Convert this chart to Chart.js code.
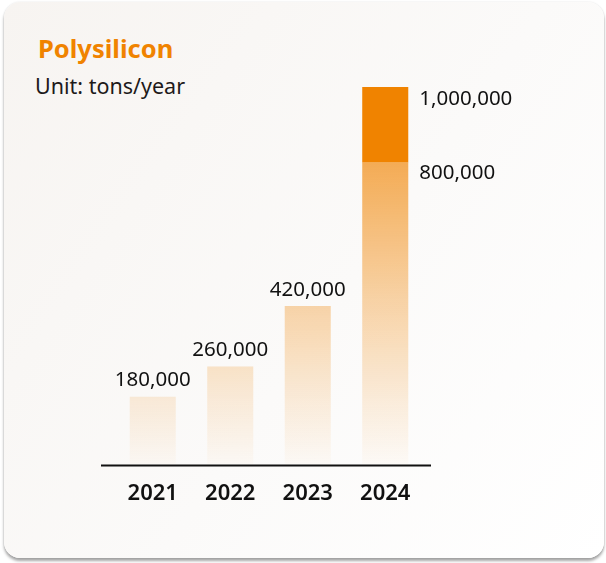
<!DOCTYPE html>
<html>
<head>
<meta charset="utf-8">
<script src="https://cdn.jsdelivr.net/npm/chart.js"></script>
<style>
  html, body {
    margin: 0;
    padding: 0;
    width: 606px;
    height: 563px;
    background: #ffffff;
    overflow: hidden;
    font-family: "Noto Sans", sans-serif;
  }
  .card {
    position: absolute;
    left: 4px;
    top: 2px;
    width: 600px;
    height: 556px;
    border-radius: 16px;
    background: linear-gradient(125deg, #f7f4f1 0%, #fbfaf9 55%, #ffffff 100%);
    box-shadow: 0 3px 3px rgba(0, 0, 0, 0.35), 0 0 2px rgba(0, 0, 0, 0.12);
  }
  .title {
    position: absolute;
    left: 38px;
    top: 31px;
    font-size: 25.5px;
    font-weight: 700;
    color: #f08300;
  }
  .unit {
    position: absolute;
    left: 35px;
    top: 71px;
    font-size: 21.5px;
    color: #1e1a1a;
  }
  #chart {
    position: absolute;
    left: 0;
    top: 0;
  }
</style>
</head>
<body>
<div class="card"></div>
<div class="title">Polysilicon</div>
<div class="unit">Unit: tons/year</div>
<canvas id="chart" width="606" height="563"></canvas>
<script>
const categories = ['2021', '2022', '2023', '2024'];
const baseValues = [180000, 260000, 420000, 800000];
const extraValues = [0, 0, 0, 200000];

const ORANGE = '#f08300';

// fade from orange near the top of the chart to almost white at the axis
const fadeFill = (context) => {
  const chart = context.chart;
  const area = chart.chartArea;
  if (!area) return 'rgba(240,131,0,0.3)';
  const y = chart.scales.y;
  const g = chart.ctx.createLinearGradient(0, y.getPixelForValue(800000), 0, area.bottom);
  g.addColorStop(0, 'rgba(240,131,0,0.66)');
  g.addColorStop(0.45, 'rgba(240,131,0,0.34)');
  g.addColorStop(0.8, 'rgba(240,131,0,0.12)');
  g.addColorStop(1, 'rgba(240,131,0,0.02)');
  return g;
};

const fmt = (v) => v.toLocaleString('en-US');

// axis line and value labels
const decorations = {
  id: 'decorations',
  afterDatasetsDraw(chart) {
    const c = chart.ctx;
    const area = chart.chartArea;
    c.save();
    c.strokeStyle = '#111';
    c.lineWidth = 2;
    c.beginPath();
    c.moveTo(101, area.bottom + 1);
    c.lineTo(431, area.bottom + 1);
    c.stroke();

    c.fillStyle = '#111';
    c.font = '20.5px "Noto Sans"';
    c.textBaseline = 'middle';
    const baseMeta = chart.getDatasetMeta(0);
    const extraMeta = chart.getDatasetMeta(1);
    categories.forEach((cat, i) => {
      const bar = baseMeta.data[i];
      if (extraValues[i] > 0) {
        const top = extraMeta.data[i];
        c.textAlign = 'left';
        const x = bar.x + bar.width / 2 + 11;
        c.fillText(fmt(baseValues[i] + extraValues[i]), x, top.y + 12);
        c.fillText(fmt(baseValues[i]), x, bar.y + 11);
      } else {
        c.textAlign = 'center';
        c.fillText(fmt(baseValues[i]), bar.x, bar.y - 16);
      }
    });
    c.restore();
  }
};

new Chart(document.getElementById('chart'), {
  type: 'bar',
  data: {
    labels: categories,
    datasets: [
      {
        label: 'Capacity',
        data: baseValues,
        backgroundColor: fadeFill,
        borderWidth: 0
      },
      {
        label: 'Added',
        data: extraValues,
        backgroundColor: ORANGE,
        borderWidth: 0
      }
    ]
  },
  options: {
    responsive: false,
    animation: false,
    layout: {
      padding: { top: 87, left: 114, right: 182, bottom: 40 }
    },
    datasets: {
      bar: { categoryPercentage: 1, barPercentage: 0.594 }
    },
    scales: {
      x: {
        stacked: true,
        grid: { display: false, drawTicks: false },
        border: { display: false },
        ticks: {
          padding: 16,
          color: '#111',
          font: { family: 'Noto Sans', size: 22, weight: '600' }
        }
      },
      y: {
        stacked: true,
        display: false,
        min: 0,
        max: 1000000
      }
    },
    plugins: {
      legend: { display: false },
      tooltip: { enabled: false }
    }
  },
  plugins: [decorations]
});
</script>
</body>
</html>
